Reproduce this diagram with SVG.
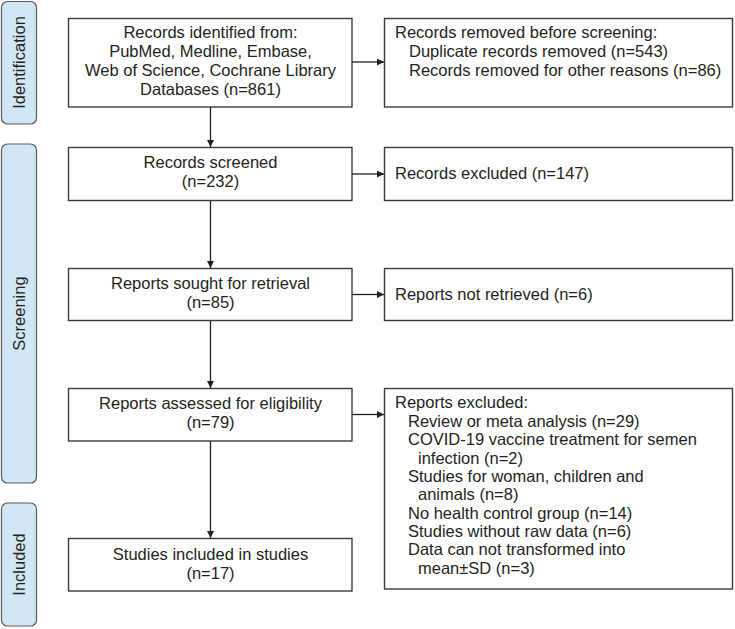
<svg xmlns="http://www.w3.org/2000/svg" width="735" height="629" viewBox="0 0 735 629">
<defs>
<marker id="ah" viewBox="0 0 10 10" refX="10" refY="5" markerWidth="7" markerHeight="7" markerUnits="userSpaceOnUse" orient="auto">
<path d="M0,0 L10,5 L0,10 z" fill="#231f20"/>
</marker>
<style>
.box{fill:#fff;stroke:#3c3a3b;stroke-width:1.4}
.phase{fill:#d2e7f5;stroke:#5a5a5a;stroke-width:1.2}
text{font-family:"Liberation Sans",Arial,sans-serif;font-size:16.5px;fill:#231f20}
.c{text-anchor:middle}
.conn line{stroke:#231f20;stroke-width:1.3;marker-end:url(#ah)}
</style>
</defs>
<rect width="735" height="629" fill="#fff"/>
<g id="phase-identification">
<rect class="phase" x="1.5" y="1.5" width="35" height="122.5" rx="6"/>
<text class="c" transform="translate(25,62.5) rotate(-90)">Identification</text>
</g>
<g id="phase-screening">
<rect class="phase" x="1.5" y="144" width="35" height="339" rx="6"/>
<text class="c" transform="translate(25,313.5) rotate(-90)">Screening</text>
</g>
<g id="phase-included">
<rect class="phase" x="1.5" y="503" width="35" height="123" rx="6"/>
<text class="c" transform="translate(25,564.5) rotate(-90)">Included</text>
</g>
<g id="identified">
<rect class="box" x="68.5" y="18.5" width="283.5" height="88.5"/>
<text class="c" x="210.5" y="38">Records identified from:</text>
<text class="c" x="210.5" y="57">PubMed, Medline, Embase,</text>
<text class="c" x="210.5" y="76">Web of Science, Cochrane Library</text>
<text class="c" x="210.5" y="95">Databases (n=861)</text>
</g>
<g id="removed">
<rect class="box" x="384.5" y="18.5" width="348" height="88.5"/>
<text x="395" y="38">Records removed before screening:</text>
<text x="409" y="57">Duplicate records removed (n=543)</text>
<text x="409" y="76">Records removed for other reasons (n=86)</text>
</g>
<g id="screened">
<rect class="box" x="68.5" y="147.5" width="283.5" height="53"/>
<text class="c" x="210.5" y="168">Records screened</text>
<text class="c" x="210.5" y="187">(n=232)</text>
</g>
<g id="excluded1">
<rect class="box" x="384.5" y="147.5" width="348" height="53"/>
<text x="395" y="179">Records excluded (n=147)</text>
</g>
<g id="sought">
<rect class="box" x="68.5" y="268.5" width="283.5" height="52"/>
<text class="c" x="210.5" y="289">Reports sought for retrieval</text>
<text class="c" x="210.5" y="308">(n=85)</text>
</g>
<g id="notretrieved">
<rect class="box" x="384.5" y="268.5" width="348" height="52"/>
<text x="395" y="299.5">Reports not retrieved (n=6)</text>
</g>
<g id="assessed">
<rect class="box" x="68.5" y="388.5" width="283.5" height="52.5"/>
<text class="c" x="210.5" y="409">Reports assessed for eligibility</text>
<text class="c" x="210.5" y="428">(n=79)</text>
</g>
<g id="excluded2">
<rect class="box" x="384.5" y="388.5" width="348" height="200.5"/>
<text x="395" y="408">Reports excluded:</text>
<text x="408" y="426.5">Review or meta analysis (n=29)</text>
<text x="408" y="445">COVID-19 vaccine treatment for semen</text>
<text x="418" y="463.5">infection (n=2)</text>
<text x="408" y="482">Studies for woman, children and</text>
<text x="418" y="500">animals (n=8)</text>
<text x="408" y="518.5">No health control group (n=14)</text>
<text x="408" y="537">Studies without raw data (n=6)</text>
<text x="408" y="555">Data can not transformed into</text>
<text x="418" y="573.5">mean±SD (n=3)</text>
</g>
<g id="included">
<rect class="box" x="68.5" y="538.5" width="283.5" height="52.5"/>
<text class="c" x="210.5" y="560">Studies included in studies</text>
<text class="c" x="210.5" y="579">(n=17)</text>
</g>
<g id="connectors" class="conn">
<line x1="352" y1="62" x2="384" y2="62"/>
<line x1="210.5" y1="107" x2="210.5" y2="147"/>
<line x1="352" y1="174" x2="384" y2="174"/>
<line x1="210.5" y1="201" x2="210.5" y2="268"/>
<line x1="352" y1="294.5" x2="384" y2="294.5"/>
<line x1="210.5" y1="321" x2="210.5" y2="388"/>
<line x1="352" y1="414.5" x2="384" y2="414.5"/>
<line x1="210.5" y1="441" x2="210.5" y2="538"/>
</g>
</svg>
